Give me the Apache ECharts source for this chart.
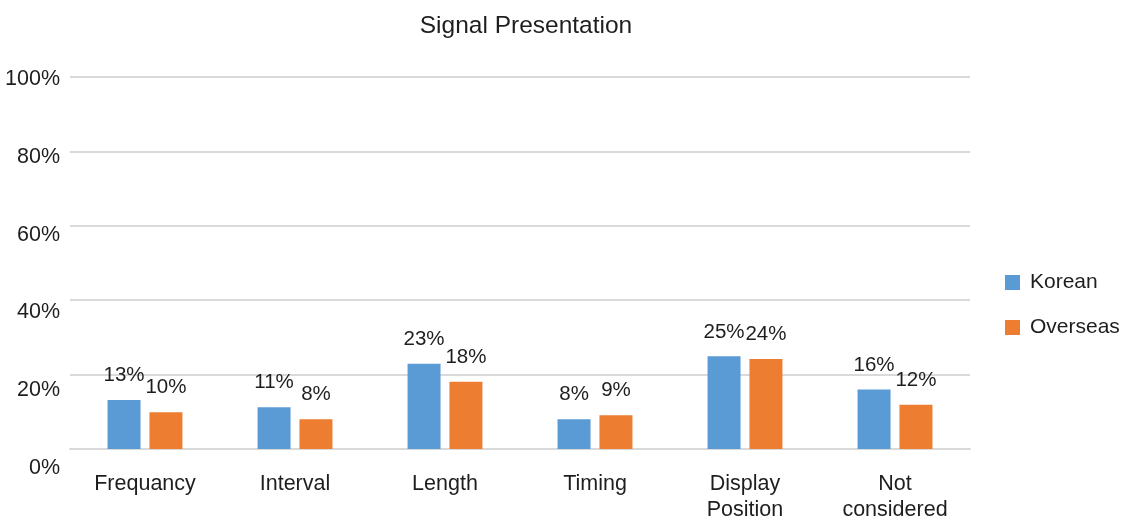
<!DOCTYPE html>
<html><head><meta charset="utf-8">
<script src="https://cdn.jsdelivr.net/npm/echarts@6/dist/echarts.min.js"></script>
<style>html,body{margin:0;padding:0;background:#fff}#c{width:1124px;height:523px}</style>
</head><body><div id="c"></div>
<script>
const categories = ['Frequancy', 'Interval', 'Length', 'Timing', 'Display\nPosition', 'Not\nconsidered'];
const korean = [13.2, 11.2, 22.9, 8.0, 24.9, 16.0];
const overseas = [9.9, 8.0, 18.1, 9.1, 24.2, 11.9];
const yTicks = [0, 20, 40, 60, 80, 100];

const FONT = '"Liberation Sans", Arial, sans-serif';
const TXT = '#1e1e1e';
const chart = echarts.init(document.getElementById('c'), null, {renderer: 'canvas'});
const lbl = {show: true, position: 'top', distance: 14, fontFamily: FONT, fontSize: 20.5, color: TXT,
  formatter: p => Math.round(p.value) + '%'};
chart.setOption({
  animation: false,
  title: {text: 'Signal Presentation', left: 521, top: 9, textAlign: 'center',
    textStyle: {fontFamily: FONT, fontSize: 24.5, fontWeight: 'normal', color: TXT}},
  legend: {orient: 'vertical', left: 1000, top: 267, itemWidth: 15, itemHeight: 15, itemGap: 24,
    icon: 'rect', textStyle: {fontFamily: FONT, fontSize: 21, color: TXT, padding: [0, 0, 0, 5]}},
  grid: [
    {left: 70, right: 154, top: 77, bottom: 71, containLabel: false},
    {left: 70, right: 154, top: 79.5, bottom: 55.3, containLabel: false}
  ],
  xAxis: [
    {type: 'category', data: categories, gridIndex: 0,
      axisLine: {lineStyle: {color: '#d9d9d9', width: 2}}, axisTick: {show: false},
      axisLabel: {fontFamily: FONT, fontSize: 21.5, color: TXT, margin: 22, lineHeight: 26, interval: 0}},
    {type: 'category', data: categories, gridIndex: 1, show: false}
  ],
  yAxis: [
    {type: 'value', gridIndex: 0, min: yTicks[0], max: yTicks[yTicks.length - 1], interval: 20,
      axisLine: {show: false}, axisTick: {show: false}, axisLabel: {show: false},
      splitLine: {lineStyle: {color: '#d9d9d9', width: 2}}},
    {type: 'value', gridIndex: 1, min: yTicks[0], max: yTicks[yTicks.length - 1], interval: 20,
      axisLine: {show: false}, axisTick: {show: false}, splitLine: {show: false},
      axisLabel: {fontFamily: FONT, fontSize: 21.5, color: TXT, margin: 10, formatter: v => v + '%'}}
  ],
  series: [
    {name: 'Korean', type: 'bar', data: korean, barWidth: '22%', barGap: '27%',
      itemStyle: {color: '#5b9bd5'}, label: lbl},
    {name: 'Overseas', type: 'bar', data: overseas, barWidth: '22%',
      itemStyle: {color: '#ed7d31'}, label: lbl}
  ]
});
</script></body></html>
